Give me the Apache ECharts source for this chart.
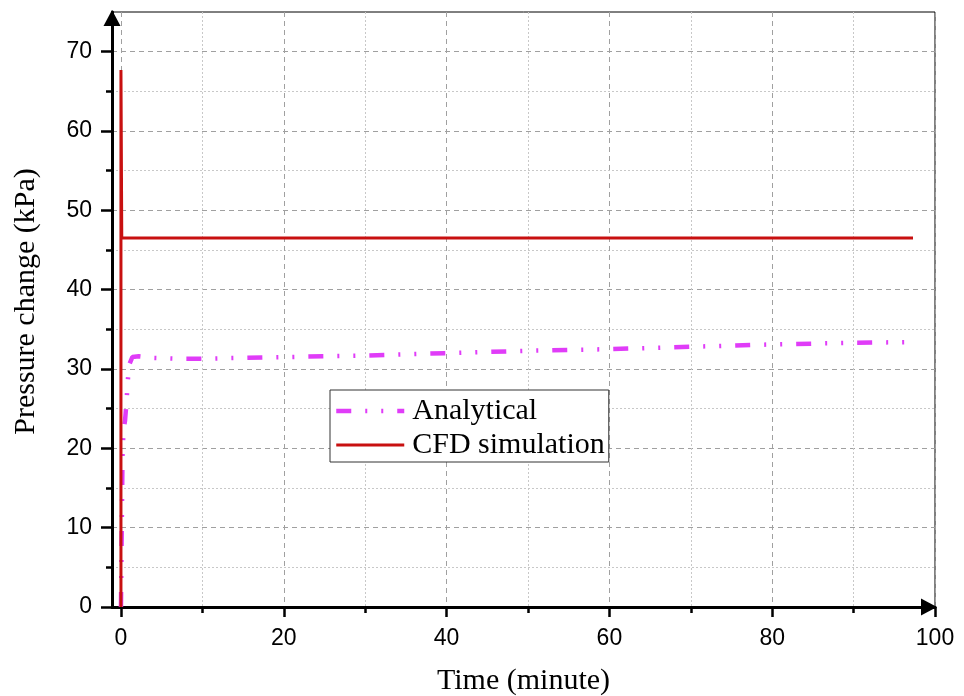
<!DOCTYPE html>
<html>
<head>
<meta charset="utf-8">
<script src="https://cdn.jsdelivr.net/npm/echarts@6/dist/echarts.min.js"></script>
<style>
html,body{margin:0;padding:0;background:#fff;}
#chart{width:964px;height:696px;}
</style>
</head>
<body>
<div id="chart"></div>
<script>
// ---- data ----
const analyticalTime = [0, 0.1, 0.2, 0.35, 0.5, 0.7, 0.8, 1.0, 1.4, 2.2, 4, 7, 10, 20, 30, 40, 50, 60, 70, 80, 90, 97.3];
const analyticalPressure = [0, 10, 20, 22.5, 23.5, 26, 28, 30.5, 31.5, 31.6, 31.4, 31.3, 31.3, 31.5, 31.7, 32.0, 32.3, 32.5, 32.8, 33.1, 33.3, 33.4];
const cfdTime = [0, 0, 0.1, 97.3];
const cfdPressure = [0, 67.7, 46.5, 46.5];

const xMajorTicks = [0, 20, 40, 60, 80, 100];
const xMinorTicks = [10, 30, 50, 70, 90];
const yMajorTicks = [0, 10, 20, 30, 40, 50, 60, 70];
const yMinorTicks = [5, 15, 25, 35, 45, 55, 65];

const seriesNames = ['Analytical', 'CFD simulation'];
const xName = 'Time (minute)';
const yName = 'Pressure change (kPa)';

const zip = (a, b) => a.map((v, i) => [v, b[i]]);

const X_MIN = -1.1, X_MAX = 100, Y_MIN = 0, Y_MAX = 75;
const majorSplit = {show: true, lineStyle: {color: '#a0a0a0', width: 1, type: [5, 4]}};
const minorSplit = {show: true, lineStyle: {color: '#c8c8c8', width: 1, type: [2, 2]}};
const tickFont = {fontFamily: 'Liberation Sans', fontSize: 23, color: '#000'};
const nameFont = {fontFamily: 'Liberation Serif', fontSize: 30, color: '#000'};

const chart = echarts.init(document.getElementById('chart'));
chart.setOption({
  animation: false,
  backgroundColor: '#fff',
  grid: {left: 112, right: 29, top: 12, bottom: 89, show: true, borderColor: '#000', borderWidth: 1,
         containLabel: false, outerBoundsMode: 'none'},
  legend: {
    left: 330, top: 390, orient: 'vertical',
    data: seriesNames,
    backgroundColor: '#fff',
    borderColor: '#333', borderWidth: 1,
    padding: [6, 4, 2, 4],
    itemWidth: 68, itemHeight: 14, itemGap: 4,
    itemStyle: {color: 'rgba(0,0,0,0)', borderColor: 'rgba(0,0,0,0)', borderWidth: 0, opacity: 0},
    lineStyle: {width: 'inherit'},
    textStyle: {fontFamily: 'Liberation Serif', fontSize: 30, color: '#000', padding: [0, 0, 0, 3]}
  },
  xAxis: [{
    type: 'value', min: X_MIN, max: X_MAX, position: 'bottom',
    name: xName, nameLocation: 'middle', nameGap: 59, nameTextStyle: nameFont,
    axisLine: {show: true, onZero: false, symbol: ['none', 'triangle'], symbolSize: [17, 16], symbolOffset: [0, -6], lineStyle: {color: '#000', width: 3}},
    axisTick: {show: true, customValues: xMajorTicks, length: 10, lineStyle: {color: '#000', width: 2.5}},
    axisLabel: {show: true, customValues: xMajorTicks, margin: 20, ...tickFont},
    splitLine: majorSplit
  }, {
    type: 'value', min: X_MIN, max: X_MAX, position: 'bottom',
    axisLine: {show: false, onZero: false},
    axisTick: {show: true, customValues: xMinorTicks, length: 6, lineStyle: {color: '#000', width: 2.5}},
    axisLabel: {show: false},
    splitLine: minorSplit
  }],
  yAxis: [{
    type: 'value', min: Y_MIN, max: Y_MAX, position: 'left',
    name: yName, nameLocation: 'middle', nameGap: 71, nameTextStyle: {...nameFont, padding: [0, 0, 0, 16]},
    axisLine: {show: true, onZero: false, symbol: ['none', 'triangle'], symbolSize: [17, 16], symbolOffset: [0, -6], lineStyle: {color: '#000', width: 3}},
    axisTick: {show: true, customValues: yMajorTicks, length: 11, lineStyle: {color: '#000', width: 2.5}},
    axisLabel: {show: true, customValues: yMajorTicks, margin: 20, ...tickFont},
    splitLine: majorSplit
  }, {
    type: 'value', min: Y_MIN, max: Y_MAX, position: 'left',
    axisLine: {show: false, onZero: false},
    axisTick: {show: true, customValues: yMinorTicks, length: 6, lineStyle: {color: '#000', width: 2.5}},
    axisLabel: {show: false},
    splitLine: minorSplit
  }],
  series: [{
    name: seriesNames[0], type: 'line', xAxisIndex: 0, yAxisIndex: 0,
    data: zip(analyticalTime, analyticalPressure),
    symbol: 'none', smooth: false,
    lineStyle: {color: '#e03cf8', width: 4.5, type: [15, 14, 2, 14, 2, 14], cap: 'butt'},
    itemStyle: {color: '#e03cf8'},
    z: 3
  }, {
    name: seriesNames[1], type: 'line', xAxisIndex: 0, yAxisIndex: 0,
    data: zip(cfdTime, cfdPressure),
    symbol: 'none',
    lineStyle: {color: '#c81010', width: 3},
    itemStyle: {color: '#c81010'},
    z: 4
  }]
});
</script>
</body>
</html>
